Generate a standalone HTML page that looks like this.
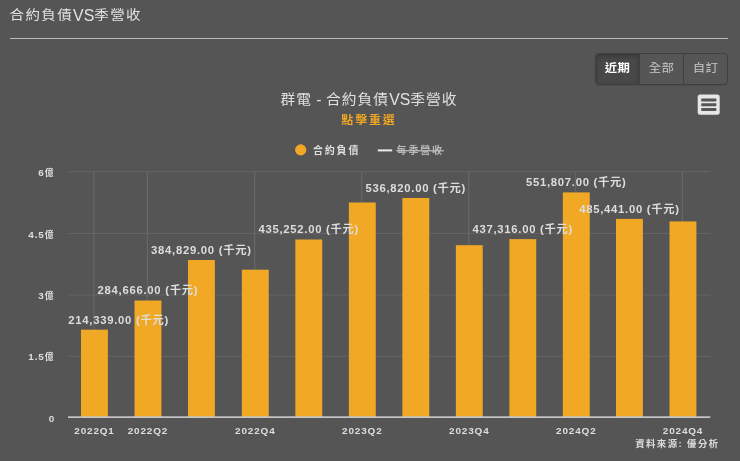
<!DOCTYPE html>
<html lang="zh-Hant">
<head>
<meta charset="utf-8">
<title>合約負債VS季營收</title>
<style>
html,body{margin:0;padding:0;}
body{width:740px;height:461px;background:#555555;overflow:hidden;position:relative;font-family:"Liberation Sans","Noto Sans CJK TC",sans-serif;color:#dddddd;}
.h{position:absolute;left:9.5px;top:4.2px;font-size:15.9px;line-height:24px;color:#e2e2e2;white-space:nowrap;}
.h span,.t span{display:inline-block;position:relative;top:-2px;font-size:14.5px;letter-spacing:1.4px;transform:scaleY(0.88);transform-origin:50% 62%;}
.t{position:absolute;left:169px;width:400px;top:88.2px;text-align:center;font-size:15.8px;line-height:24px;color:#e0e0e0;white-space:nowrap;}
.t span{top:-1.2px;font-size:14.7px;letter-spacing:1.1px;transform:scaleY(0.9);}
.hr{position:absolute;left:10px;top:38px;width:718px;height:1px;background:#b9b9b9;}
.grp{position:absolute;left:595px;top:53px;height:31.5px;width:133px;display:flex;box-sizing:border-box;border:1px solid #3f3f3f;border-radius:4px;overflow:hidden;background:#565656;box-shadow:0 1px 1px rgba(0,0,0,.08);}
.grp div{flex:1 1 0;box-sizing:border-box;text-align:center;font-size:12.4px;letter-spacing:0.3px;line-height:29px;color:#c9c9c9;border-left:1px solid #3f3f3f;}
.grp div:first-child{border-left:0;background:#484848;color:#fff;font-weight:bold;box-shadow:inset 0 2px 4px rgba(0,0,0,.25);}
.grp span{display:inline-block;transform:scaleY(0.92);transform-origin:50% 60%;}
svg{position:absolute;left:0;top:0;}
svg text{font-family:"Liberation Sans","Noto Sans CJK TC",sans-serif;fill:#dddddd;}
.ax{font-size:9.95px;font-weight:bold;letter-spacing:0.85px;}
.yi{font-size:8.8px;letter-spacing:1.6px;}
.dl{font-size:11.3px;font-weight:bold;letter-spacing:0.72px;}
.ttl{font-size:15.8px;fill:#e0e0e0;}
.tc{font-size:14.7px;letter-spacing:1.1px;}
.sub{font-size:12px;font-weight:bold;letter-spacing:1.85px;fill:#f0a825;}
.lg{font-size:10px;font-weight:bold;letter-spacing:1.8px;}
.lg.off{fill:#b8b8b8;}
.cr{font-size:9.4px;font-weight:bold;letter-spacing:1.45px;}
</style>
</head>
<body>
<div class="h"><span>合約負債</span>VS<span>季營收</span></div>
<div class="hr"></div>
<div class="t"><span>群電</span> - <span>合約負債</span>VS<span>季營收</span></div>
<div class="grp"><div><span>近期</span></div><div><span>全部</span></div><div><span>自訂</span></div></div>
<svg width="740" height="461" viewBox="0 0 740 461">
<line x1="68.0" x2="710.5" y1="171.7" y2="171.7" stroke="#646464" stroke-width="1"/>
<line x1="68.0" x2="710.5" y1="233.5" y2="233.5" stroke="#646464" stroke-width="1"/>
<line x1="68.0" x2="710.5" y1="295.0" y2="295.0" stroke="#646464" stroke-width="1"/>
<line x1="68.0" x2="710.5" y1="356.3" y2="356.3" stroke="#646464" stroke-width="1"/>
<line x1="93.90" x2="93.90" y1="171.7" y2="417.5" stroke="#696969" stroke-width="1.1"/>
<line x1="147.40" x2="147.40" y1="171.7" y2="417.5" stroke="#696969" stroke-width="1.1"/>
<line x1="254.75" x2="254.75" y1="171.7" y2="417.5" stroke="#696969" stroke-width="1.1"/>
<line x1="361.75" x2="361.75" y1="171.7" y2="417.5" stroke="#696969" stroke-width="1.1"/>
<line x1="468.75" x2="468.75" y1="171.7" y2="417.5" stroke="#696969" stroke-width="1.1"/>
<line x1="575.75" x2="575.75" y1="171.7" y2="417.5" stroke="#696969" stroke-width="1.1"/>
<line x1="682.40" x2="682.40" y1="171.7" y2="417.5" stroke="#696969" stroke-width="1.1"/>
<rect x="81.00" y="329.70" width="26.9" height="87.30" fill="#f0a825"/>
<rect x="134.50" y="300.50" width="26.9" height="116.50" fill="#f0a825"/>
<rect x="188.00" y="260.00" width="26.9" height="157.00" fill="#f0a825"/>
<rect x="241.85" y="269.70" width="26.9" height="147.30" fill="#f0a825"/>
<rect x="295.35" y="239.50" width="26.9" height="177.50" fill="#f0a825"/>
<rect x="348.85" y="202.50" width="26.9" height="214.50" fill="#f0a825"/>
<rect x="402.35" y="198.00" width="26.9" height="219.00" fill="#f0a825"/>
<rect x="455.85" y="245.20" width="26.9" height="171.80" fill="#f0a825"/>
<rect x="509.35" y="239.10" width="26.9" height="177.90" fill="#f0a825"/>
<rect x="562.85" y="192.40" width="26.9" height="224.60" fill="#f0a825"/>
<rect x="616.00" y="218.90" width="26.9" height="198.10" fill="#f0a825"/>
<rect x="669.50" y="221.40" width="26.9" height="195.60" fill="#f0a825"/>
<rect x="68.0" y="416.3" width="642.3" height="1.7" fill="#c6c6c6"/>
<text class="ax" x="55.1" y="175.8" text-anchor="end">6<tspan class="yi">億</tspan></text>
<text class="ax" x="55.1" y="237.6" text-anchor="end">4.5<tspan class="yi">億</tspan></text>
<text class="ax" x="55.1" y="299.1" text-anchor="end">3<tspan class="yi">億</tspan></text>
<text class="ax" x="55.1" y="360.4" text-anchor="end">1.5<tspan class="yi">億</tspan></text>
<text class="ax" x="55.1" y="421.5" text-anchor="end">0</text>
<text class="ax" x="94.5" y="433.9" text-anchor="middle">2022Q1</text>
<text class="ax" x="147.9" y="433.9" text-anchor="middle">2022Q2</text>
<text class="ax" x="255.3" y="433.9" text-anchor="middle">2022Q4</text>
<text class="ax" x="362.3" y="433.9" text-anchor="middle">2023Q2</text>
<text class="ax" x="469.3" y="433.9" text-anchor="middle">2023Q4</text>
<text class="ax" x="576.3" y="433.9" text-anchor="middle">2024Q2</text>
<text class="ax" x="683.0" y="433.9" text-anchor="middle">2024Q4</text>
<text class="dl" x="68.3" y="323.5" text-anchor="start">214,339.00 (千元)</text>
<text class="dl" x="147.9" y="294.3" text-anchor="middle">284,666.00 (千元)</text>
<text class="dl" x="201.4" y="253.8" text-anchor="middle">384,829.00 (千元)</text>
<text class="dl" x="308.8" y="233.3" text-anchor="middle">435,252.00 (千元)</text>
<text class="dl" x="415.8" y="191.8" text-anchor="middle">536,820.00 (千元)</text>
<text class="dl" x="522.8" y="232.9" text-anchor="middle">437,316.00 (千元)</text>
<text class="dl" x="576.3" y="186.2" text-anchor="middle">551,807.00 (千元)</text>
<text class="dl" x="629.5" y="212.7" text-anchor="middle">485,441.00 (千元)</text>
<text class="sub" transform="translate(369.0,124.0) scale(1,0.92)" text-anchor="middle">點擊重選</text>
<circle cx="300.7" cy="149.9" r="5.6" fill="#f0a825"/>
<text class="lg" x="313" y="154.4">合約負債</text>
<rect x="377.8" y="149.4" width="14.4" height="2" fill="#ececec"/>
<text class="lg off" x="396.6" y="154.4">每季營收</text>
<rect x="396.3" y="150.2" width="47.6" height="1.2" fill="#bdbdbd"/>
<text class="cr" x="719.6" y="446.6" text-anchor="end">資料來源: 優分析</text>
<rect x="697.7" y="94.6" width="22" height="20.2" rx="2.5" fill="#e6e6e6"/>
<rect x="701.2" y="98.60" width="15.2" height="2.8" rx="0.6" fill="#555"/>
<rect x="701.2" y="103.35" width="15.2" height="2.8" rx="0.6" fill="#555"/>
<rect x="701.2" y="108.10" width="15.2" height="2.8" rx="0.6" fill="#555"/>
</svg>
</body>
</html>
